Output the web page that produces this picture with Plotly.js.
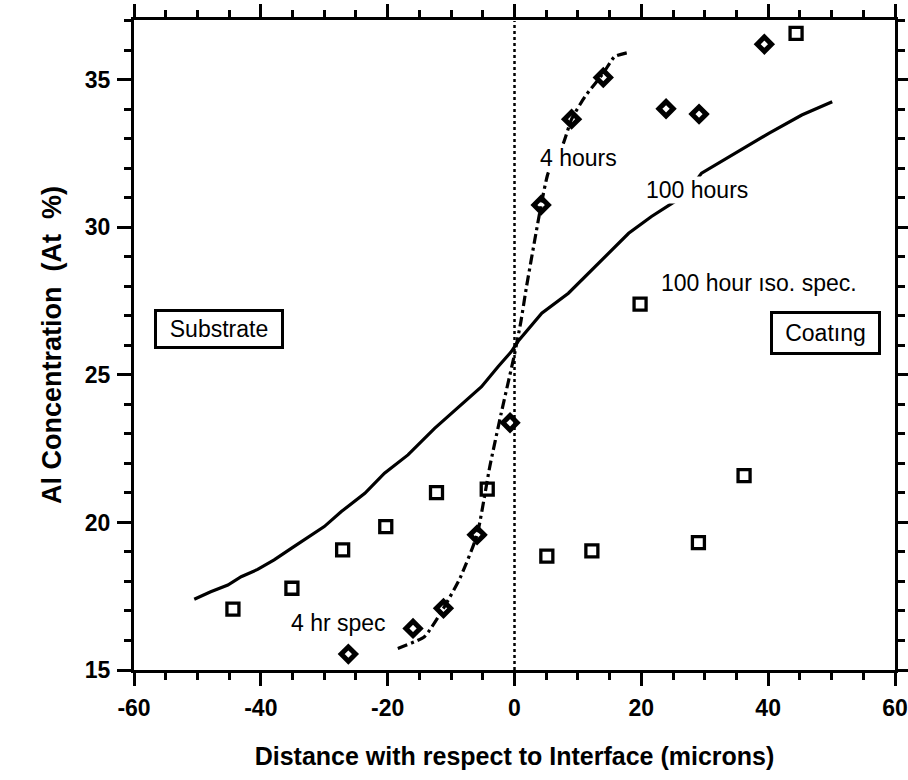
<!DOCTYPE html>
<html><head><meta charset="utf-8">
<script src="https://cdn.plot.ly/plotly-3.0.1.min.js"></script>
<style>html,body{margin:0;padding:0;background:#fff}#chart{width:908px;height:780px}</style>
</head><body><div id="chart"></div>
<script>
// 4 hr spec (diamonds)
const spec4X = [-26.2, -16.0, -11.2, -5.9, -0.7, 4.2, 9.0, 14.0, 23.9, 29.1, 39.4];
const spec4Y = [15.54, 16.41, 17.09, 19.58, 23.38, 30.76, 33.67, 35.08, 34.02, 33.84, 36.21];
// 100 hour iso. spec (squares)
const spec100X = [-44.4, -35.1, -27.1, -20.3, -12.3, -4.3, 5.1, 12.2, 19.8, 29.0, 36.2, 44.4];
const spec100Y = [17.06, 17.77, 19.07, 19.86, 21.01, 21.13, 18.86, 19.04, 27.40, 19.32, 21.59, 36.58];
// 100 hours model (solid)
const h100X = [-50.5, -47.9, -45.2, -43.1, -40.5, -37.9, -35.2, -33.1, -30.0, -27.3, -23.6, -20.5, -16.8, -12.6, -7.9, -5.2, -2.6, -0.5, 0.6, 4.3, 8.5, 13.2, 18.0, 21.6, 26.9, 29.5, 34.8, 40.1, 45.3, 50.1];
const h100Y = [17.40, 17.65, 17.88, 18.16, 18.41, 18.73, 19.12, 19.43, 19.86, 20.37, 20.99, 21.67, 22.29, 23.19, 24.10, 24.60, 25.28, 25.79, 26.15, 27.09, 27.77, 28.79, 29.80, 30.37, 31.10, 31.84, 32.51, 33.19, 33.81, 34.26];
// 4 hours model (dash-dot)
const h4X = [-18.4, -14.2, -11.2, -8.6, -5.9, -3.9, -2.1, 0.0, 1.0, 1.9, 3.2, 4.2, 5.3, 7.7, 9.0, 11.1, 14.0, 15.8, 18.0];
const h4Y = [15.73, 16.13, 17.09, 18.11, 19.58, 21.89, 23.70, 25.70, 26.80, 28.0, 29.58, 30.76, 31.84, 32.85, 33.67, 34.43, 35.23, 35.79, 35.93];
// interface line
const ifaceX = [0, 0];
const ifaceY = [15, 37];

const xTicks = [-60, -40, -20, 0, 20, 40, 60];
const yTicks = [15, 20, 25, 30, 35];

const FONT = '"Liberation Sans", Arial, Helvetica, sans-serif';

const traces = [
  {x: ifaceX, y: ifaceY, mode: 'lines', line: {color: '#000', width: 2.5, dash: 'dot'}, hoverinfo: 'skip'},
  {x: h100X, y: h100Y, mode: 'lines', line: {color: '#000', width: 3.2}},
  {x: h4X, y: h4Y, mode: 'lines', line: {color: '#000', width: 3.2, dash: '10px,4px,3px,4px', shape: 'spline', smoothing: 0.5}},
  {x: spec4X, y: spec4Y, mode: 'markers', marker: {symbol: 'diamond-open', size: 11, color: '#000', line: {color: '#000', width: 5}}},
  {x: spec100X, y: spec100Y, mode: 'markers', marker: {symbol: 'square-open', size: 12, color: '#000', line: {color: '#000', width: 3.3}}}
];

function tf() { return {family: FONT, size: 23, color: '#000', weight: 700}; }
const NB = '\u00a0';

const layout = {
  width: 908, height: 780,
  margin: {l: 134, r: 13, t: 20, b: 110},
  paper_bgcolor: '#fff', plot_bgcolor: '#fff',
  showlegend: false,
  font: {family: FONT, color: '#000', size: 17},
  xaxis: {
    showgrid: false, zeroline: false, showline: true, linecolor: '#000', linewidth: 3,
    mirror: 'ticks', ticks: 'outside', ticklen: 13, tickwidth: 3, tickcolor: '#000',
    tickfont: tf(), ticklabelstandoff: 2,
    range: [-60, 60], tickmode: 'array', tickvals: xTicks, ticktext: xTicks.map(String),
    minor: {dtick: 5, tick0: 0, ticks: 'outside', ticklen: 7, tickwidth: 3, tickcolor: '#000'},
    title: {text: 'Distance with respect to Interface (microns)', font: {family: FONT, size: 25, weight: 900, color: '#000'}, standoff: 28}
  },
  yaxis: {
    showgrid: false, zeroline: false, showline: true, linecolor: '#000', linewidth: 3,
    mirror: 'ticks', ticks: 'outside', ticklen: 14, tickwidth: 3, tickcolor: '#000',
    tickfont: tf(), ticklabelstandoff: 2,
    range: [15, 37.03], tickmode: 'array', tickvals: yTicks, ticktext: yTicks.map(String),
    minor: {dtick: 1, tick0: 15, ticks: 'outside', ticklen: 7, tickwidth: 3, tickcolor: '#000'},
    title: {text: 'Al Concentration' + NB + NB + '(At' + NB + NB + '%)', font: {family: FONT, size: 27, weight: 900, color: '#000'}, standoff: 16}
  },
  annotations: [
    {x: 10.1, y: 32.36, text: '4 hours', showarrow: false, font: {family: FONT, size: 23, color: '#000'}, bgcolor: '#fff', borderpad: 0},
    {x: 28.75, y: 31.27, text: '100 hours', showarrow: false, font: {family: FONT, size: 23, color: '#000'}, bgcolor: '#fff', borderpad: 0},
    {x: 38.5, y: 28.12, text: '100 hour ıso. spec.', showarrow: false, font: {family: FONT, size: 23, color: '#000'}},
    {x: -27.8, y: 16.59, text: '4 hr spec', showarrow: false, font: {family: FONT, size: 23, color: '#000'}},
    {x: -46.6, y: 26.56, text: 'Substrate', showarrow: false, font: {family: FONT, size: 23, color: '#000'}, bordercolor: '#000', borderwidth: 3, borderpad: 2, width: 120, height: 30, bgcolor: '#fff'},
    {x: 49.0, y: 26.42, text: 'Coatıng', showarrow: false, font: {family: FONT, size: 23, color: '#000'}, bordercolor: '#000', borderwidth: 3, borderpad: 2, width: 101, height: 34, bgcolor: '#fff'}
  ]
};

Plotly.newPlot('chart', traces, layout, {staticPlot: true, displayModeBar: false});
</script>
</body></html>
